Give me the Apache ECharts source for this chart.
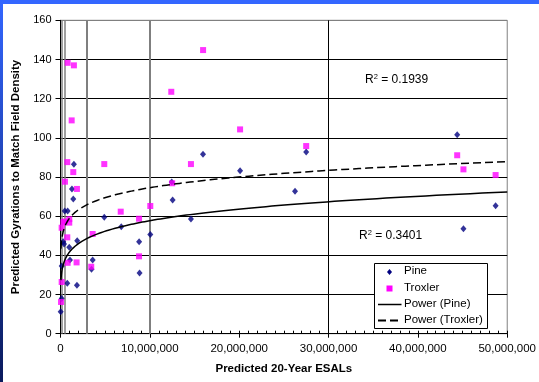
<!DOCTYPE html>
<html>
<head>
<meta charset="utf-8">
<script src="https://cdn.jsdelivr.net/npm/echarts@6/dist/echarts.min.js"></script>
<style>
html,body{margin:0;padding:0;background:#fff;}
#chart{width:539px;height:382px;}
</style>
</head>
<body>
<div id="chart"></div>
<script>
// ---- data ----
const pineESALs = [20000,130000,130000,300000,400000,470000,800000,760000,980000,1060000,1280000,1500000,1430000,1870000,1840000,3470000,3600000,4900000,6800000,8800000,8850000,10050000,12450000,12550000,14600000,15950000,20100000,26250000,27500000,44400000,45100000,48700000];
const pineGyrations = [11.2,18,34.6,47,45.8,62.6,62.6,25.7,44.1,37.6,73.9,86.5,68.8,47.5,24.7,32.9,37.6,59.4,54.6,47,31,50.6,77.4,68.2,58.5,91.6,83.2,72.7,92.8,101.6,53.6,65.3];
const troxlerESALs = [60000,130000,130000,320000,480000,980000,980000,760000,800000,1800000,500000,760000,1430000,1840000,1250000,800000,1500000,3600000,3440000,4900000,6740000,8790000,8790000,10050000,12400000,12500000,14600000,15960000,20100000,27500000,44400000,45100000,48700000];
const troxlerGyrations = [16.2,26.4,54.1,56.9,57.3,58.5,56.7,49.2,36.2,36.4,77.6,87.6,82.5,73.9,108.9,138.3,137,50.9,34.2,86.6,62.3,58.7,39.5,65.2,123.5,76.8,86.6,144.8,104.3,95.8,91.1,83.9,81];
// power trendline coefficients y = a * x^b
const pineTrend = [5.944, 0.141];
const troxlerTrend = [14.4, 0.102];
const trendRange = [50000, 50000000];
const r2Labels = ['0.1939', '0.3401'];
const xTickLabels = ['0','10,000,000','20,000,000','30,000,000','40,000,000','50,000,000'];
const yTickLabels = ['0','20','40','60','80','100','120','140','160'];
const refLinesX = [170000, 420000, 2900000, 9950000, 30000000];
const seriesNames = ['Pine','Troxler','Power (Pine)','Power (Troxler)'];

const FONT = 'Arial, "Liberation Sans", sans-serif';

function pairs(xs, ys){ return xs.map((x,i)=>[x, ys[i]]); }
function trendCurve(coef){
  const pts = [];
  const n = 240;
  const l0 = Math.log(trendRange[0]), l1 = Math.log(trendRange[1]);
  for(let i=0;i<=n;i++){
    const x = Math.exp(l0 + (l1-l0)*i/n);
    pts.push([x, coef[0]*Math.pow(x, coef[1])]);
  }
  return pts;
}

const refColors = ['#7f7f7f','#7f7f7f','#7f7f7f','#7f7f7f','#000'];
const refWidths = [1.5,1.5,2,2,1];

const chart = echarts.init(document.getElementById('chart'), null, {renderer:'canvas'});
const supRich = {
  n:{fontSize:12, fontFamily:FONT, color:'#111'},
  s:{fontSize:7.5, fontFamily:FONT, color:'#111', verticalAlign:'top', padding:[0,0,6,0]}
};
const option = {
  animation:false,
  backgroundColor:'#fff',
  textStyle:{fontFamily:FONT},
  grid:{left:60.5, right:30, top:20.3, bottom:48.3, show:true, borderColor:'#808080', borderWidth:1, backgroundColor:'transparent'},
  xAxis:[{
    type:'value', min:0, max:50000000, interval:10000000,
    axisLine:{show:true, onZero:false, lineStyle:{color:'#000', width:1}},
    axisTick:{show:true, length:4, lineStyle:{color:'#000'}},
    axisLabel:{fontSize:11.5, color:'#000', fontFamily:FONT, margin:9,
      formatter:(v)=>xTickLabels[Math.round(v/10000000)]},
    splitLine:{show:false},
    name:'Predicted 20-Year ESALs', nameLocation:'middle', nameGap:29,
    nameTextStyle:{fontSize:11.5, fontWeight:'bold', color:'#000', fontFamily:FONT}
  },{
    type:'value', min:0, max:50000000, interval:1000000, position:'bottom',
    axisLine:{show:false},
    axisTick:{show:true, inside:true, length:3, lineStyle:{color:'#000'}},
    axisLabel:{show:false}, splitLine:{show:false}
  }],
  yAxis:{
    type:'value', min:0, max:160, interval:20,
    axisLine:{show:true, lineStyle:{color:'#000', width:1}},
    axisTick:{show:true, length:5, lineStyle:{color:'#000'}},
    axisLabel:{fontSize:11, color:'#000', fontFamily:FONT, margin:9,
      formatter:(v)=>yTickLabels[Math.round(v/20)]},
    splitLine:{show:true, lineStyle:{color:['#000','#000','#000','#000','#000','#000','#000','#000','#808080'], width:1}},
    name:'Predicted Gyrations to Match Field Density', nameLocation:'middle', nameGap:36,
    nameTextStyle:{fontSize:11.5, fontWeight:'bold', color:'#000', fontFamily:FONT}
  },
  series:[
    {
      type:'scatter', name:seriesNames[0], data:pairs(pineESALs, pineGyrations),
      symbol:'diamond', symbolSize:[6,7], itemStyle:{color:'#000080'}, z:3,
      markLine:{silent:true, symbol:['none','none'], label:{show:false}, z:1,
        data: refLinesX.map((x,i)=>({xAxis:x, lineStyle:{color:refColors[i], width:refWidths[i], type:'solid'}}))}
    },
    {
      type:'scatter', name:seriesNames[1], data:pairs(troxlerESALs, troxlerGyrations),
      symbol:'rect', symbolSize:6, itemStyle:{color:'#ff00ff'}, z:4
    },
    {
      type:'line', name:seriesNames[2], data:trendCurve(pineTrend), showSymbol:false, symbol:'none',
      lineStyle:{color:'#000', width:1.5}, z:5, smooth:false
    },
    {
      type:'line', name:seriesNames[3], data:trendCurve(troxlerTrend), showSymbol:false, symbol:'none',
      lineStyle:{color:'#000', width:1.5, type:[8,4]}, z:5, smooth:false
    }
  ],
  graphic:[
    {type:'rect', left:0, top:0, shape:{width:539, height:4}, style:{fill:'#3366ff'}, z:100},
    {type:'rect', left:0, top:0, shape:{width:3, height:382},
      style:{fill:new echarts.graphic.LinearGradient(0,0,0,1,[{offset:0,color:'#3366ff'},{offset:1,color:'#0a1a5c'}])}, z:100},
    {type:'text', left:365, top:73, z:50, style:{text:'{n|R}{s|2}{n| = '+r2Labels[0]+'}', rich:supRich}},
    {type:'text', left:359, top:229, z:50, style:{text:'{n|R}{s|2}{n| = '+r2Labels[1]+'}', rich:supRich}},
    {type:'rect', left:374, top:263, z:60, shape:{width:113, height:65}, style:{fill:'#fff', stroke:'#000', lineWidth:1}},
    {type:'polygon', z:61, shape:{points:[[389.5,269],[392,272],[389.5,275],[387,272]]}, style:{fill:'#000080'}},
    {type:'text', left:404, top:265, z:61, style:{text:seriesNames[0], fontSize:11.5, fontFamily:FONT, fill:'#000'}},
    {type:'rect', z:61, shape:{x:386.5, y:285.5, width:6, height:6}, style:{fill:'#ff00ff'}},
    {type:'text', left:404, top:282, z:61, style:{text:seriesNames[1], fontSize:11.5, fontFamily:FONT, fill:'#000'}},
    {type:'line', z:61, shape:{x1:378, y1:304.5, x2:401.5, y2:304.5}, style:{stroke:'#000', lineWidth:1.5}},
    {type:'text', left:404, top:298, z:61, style:{text:seriesNames[2], fontSize:11.5, fontFamily:FONT, fill:'#000'}},
    {type:'line', z:61, shape:{x1:378, y1:320.5, x2:401.5, y2:320.5}, style:{stroke:'#000', lineWidth:2, lineDash:[8,4]}},
    {type:'text', left:404, top:314, z:61, style:{text:seriesNames[3], fontSize:11.5, fontFamily:FONT, fill:'#000'}}
  ]
};
chart.setOption(option);
</script>
</body>
</html>
